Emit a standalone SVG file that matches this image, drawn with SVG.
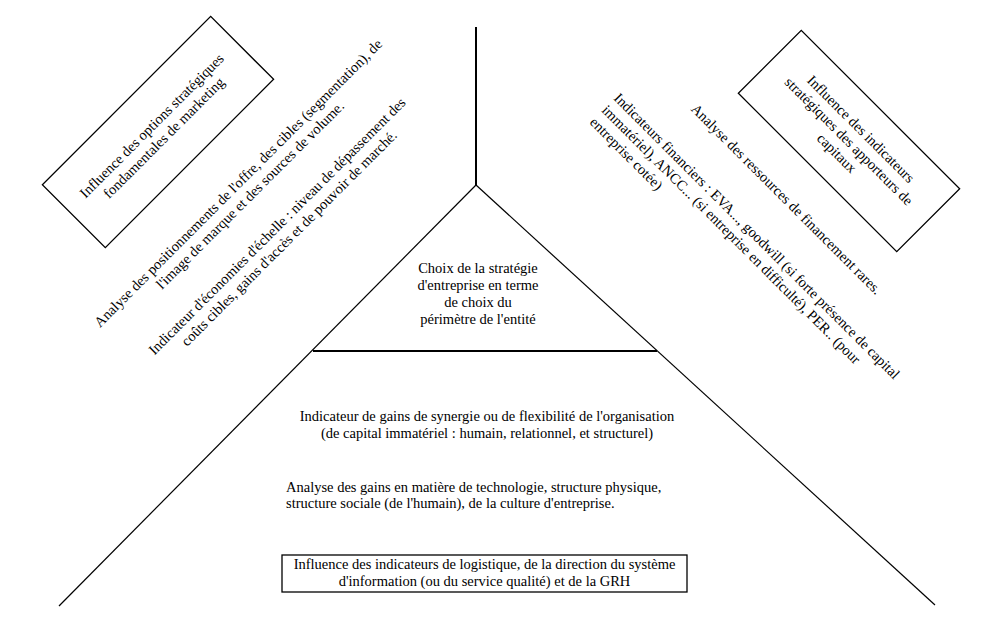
<svg xmlns="http://www.w3.org/2000/svg" width="1000" height="627" viewBox="0 0 1000 627">
<style>
text{font-family:"Liberation Serif","Times New Roman",serif;font-size:14.5px;fill:#000}
.c{text-anchor:middle}
.ln{stroke:#000;stroke-width:1.2;fill:none}
.thick{stroke:#000;stroke-width:2;fill:none}
.box{fill:#fff;stroke:#000;stroke-width:1.3}
</style>
<rect width="1000" height="627" fill="#fff"/>
<g id="connectors">
<line class="thick" x1="476" y1="27" x2="476" y2="185"/>
<line class="ln" x1="476" y1="185" x2="59" y2="606"/>
<line class="ln" x1="476" y1="185" x2="935" y2="605"/>
<line class="thick" x1="313" y1="351" x2="657" y2="351"/>
</g>
<g id="center">
<text class="c" x="478" y="273">Choix de la stratégie</text>
<text class="c" x="478" y="290">d'entreprise en terme</text>
<text class="c" x="478" y="307">de choix du</text>
<text class="c" x="478" y="324">périmètre de l'entité</text>
</g>
<g id="box-marketing" transform="translate(158,132) rotate(-45)">
<rect class="box" x="-119" y="-44.5" width="238" height="89"/>
<text class="c" x="0" y="-4">Influence des options stratégiques</text>
<text class="c" x="0" y="13">fondamentales de marketing</text>
</g>
<g id="txt-positionnements" transform="translate(241.5,186.5) rotate(-45)">
<text class="c" x="0" y="0">Analyse des positionnements de l'offre, des cibles (segmentation), de</text>
<text class="c" x="0" y="17">l'image de marque et des sources de volume.</text>
</g>
<g id="txt-economies" transform="translate(280.5,229.5) rotate(-45)">
<text class="c" x="0" y="0">Indicateur d'économies d'échelle  : niveau de dépassement des</text>
<text class="c" x="0" y="17">coûts cibles, gains d'accès et de pouvoir de marché.</text>
</g>
<g id="box-capitaux" transform="translate(849,141) rotate(45)">
<rect class="box" x="-112" y="-44.5" width="224" height="89"/>
<text class="c" x="0" y="-12">Influence des indicateurs</text>
<text class="c" x="0" y="5">stratégiques des apporteurs de</text>
<text class="c" x="0" y="22">capitaux</text>
</g>
<g id="txt-ressources" transform="translate(783,202.5) rotate(45)">
<text class="c" x="0" y="0">Analyse des ressources de financement rares.</text>
</g>
<g id="txt-financiers" transform="translate(613,99) rotate(45)">
<text x="0" y="0">Indicateurs financiers : EVA..., goodwill (si forte présence de capital</text>
<text x="0" y="17">immatériel), ANCC... (si entreprise en difficulté), PER.. (pour</text>
<text x="0" y="34">entreprise cotée)</text>
</g>
<g id="txt-synergie">
<text class="c" x="487" y="421">Indicateur de gains de synergie ou de flexibilité de l'organisation</text>
<text class="c" x="487" y="438">(de capital immatériel : humain, relationnel, et structurel)</text>
</g>
<g id="txt-gains">
<text x="286" y="492">Analyse des gains en matière de technologie, structure physique,</text>
<text x="286" y="508">structure sociale (de l'humain), de la culture d'entreprise.</text>
</g>
<g id="box-logistique">
<rect class="box" x="282" y="555" width="405" height="37" stroke-width="2"/>
<text class="c" x="484.5" y="569">Influence des indicateurs de logistique, de la direction du système</text>
<text class="c" x="484.5" y="586">d'information (ou du service qualité) et de la GRH</text>
</g>
</svg>
